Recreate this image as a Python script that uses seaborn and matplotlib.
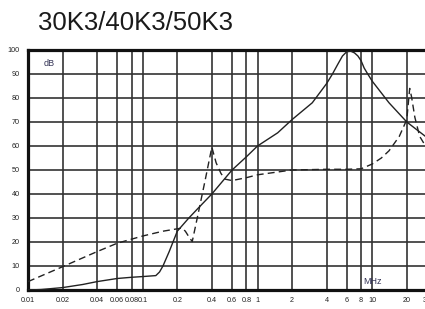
import numpy as np
import pandas as pd
import matplotlib
matplotlib.use("Agg")
import matplotlib.pyplot as plt
import seaborn as sns

# =========================
# DATA
# =========================
freq_solid = [0.01, 0.013, 0.02, 0.03, 0.04, 0.06, 0.08, 0.1, 0.13, 0.14, 0.15,
              0.17, 0.2, 0.25, 0.3, 0.4, 0.5, 0.6, 0.8, 1.0, 1.5, 2.0, 3.0,
              4.0, 4.5, 5.0, 5.5, 6.0, 6.5, 7.0, 7.5, 8.0, 8.5, 9.0, 10.0,
              14.0, 20.0, 30.0]
db_solid = [0, 0.2, 1, 2.3, 3.5, 4.8, 5.3, 5.6, 6.0, 7.5, 10,
            16, 24.5, 29.8, 33.8, 40, 45.5, 50, 55.5, 60, 65.5, 71, 78,
            86, 90, 94, 97.5, 99.3, 99.5, 98.8, 97.5, 95.5, 92.5, 90.5, 87,
            78, 70, 63.5]

freq_dash = [0.01, 0.02, 0.04, 0.06, 0.1, 0.15, 0.2, 0.22, 0.235, 0.256, 0.27,
             0.3, 0.35, 0.4, 0.436, 0.48, 0.52, 0.6, 0.8, 1.0, 2.0, 4.0,
             6.0, 8.0, 10.0, 12.0, 14.0, 17.2, 20.0, 21.2, 22.0, 23.5, 25.9, 30.0]
db_dash = [3.5, 9.7, 16, 19.5, 22.5, 24.5, 25.5, 25.8, 24.5, 21.7, 20.2,
           30.5, 45.8, 59.5, 53, 48.6, 46.2, 45.6, 46.8, 48, 50, 50.3,
           50.3, 50.5, 52.5, 55, 58, 64, 71, 84, 80.5, 72, 64, 59]

x_ticks = [0.01, 0.02, 0.04, 0.06, 0.08, 0.1, 0.2, 0.4, 0.6, 0.8, 1, 2, 4, 6, 8, 10, 20, 30]
x_ticklabels = ["0.01", "0.02", "0.04", "0.06", "0.08", "0.1", "0.2", "0.4", "0.6", "0.8",
                "1", "2", "4", "6", "8", "10", "20", "30"]
y_ticks = [0, 10, 20, 30, 40, 50, 60, 70, 80, 90, 100]

title = "30K3/40K3/50K3"

# =========================
# PLOT
# =========================
sns.set_theme(style="white")
plt.rcParams['font.family'] = ['Liberation Sans', 'DejaVu Sans']

fig = plt.figure(figsize=(4.25, 3.09), dpi=100)
W, H = 425, 309
ax = fig.add_axes([28 / W, 19 / H, (427 - 28) / W, 240 / H])

df_s = pd.DataFrame({"f": freq_solid, "db": db_solid})
df_d = pd.DataFrame({"f": freq_dash, "db": db_dash})

sns.lineplot(data=df_s, x="f", y="db", ax=ax, color="#222222", lw=1.0,
             sort=False, estimator=None, zorder=3)
sns.lineplot(data=df_d, x="f", y="db", ax=ax, color="#222222", lw=1.0,
             sort=False, estimator=None, zorder=3, linestyle=(0, (5, 3)))

ax.set_xscale("log")
ax.set_xlim(0.01, 30)
ax.set_ylim(0, 100)
ax.minorticks_off()
ax.set_xticks(x_ticks)
ax.set_xticklabels(x_ticklabels)
ax.set_yticks(y_ticks)
ax.set_xlabel("")
ax.set_ylabel("")

ax.grid(True, which="major", color="#333333", lw=1.2)
ax.tick_params(axis="both", length=0, labelsize=5.2, colors="#222222")
ax.tick_params(axis="x", pad=5)
ax.tick_params(axis="y", pad=6)

for sp in ax.spines.values():
    sp.set_color("#111111")
    sp.set_linewidth(2.3)

ax.text(0.04, 0.945, "dB", transform=ax.transAxes, fontsize=6.5,
        color="#333355", ha="left", va="center")
ax.text(0.84, 0.035, "MHz", transform=ax.transAxes, fontsize=6.5,
        color="#333355", ha="left", va="center")

fig.text(38 / W, 1 - 30 / H, title, fontsize=18.5, color="#1a1a1a",
         ha="left", va="baseline")

fig.savefig("out.png", dpi=100)
